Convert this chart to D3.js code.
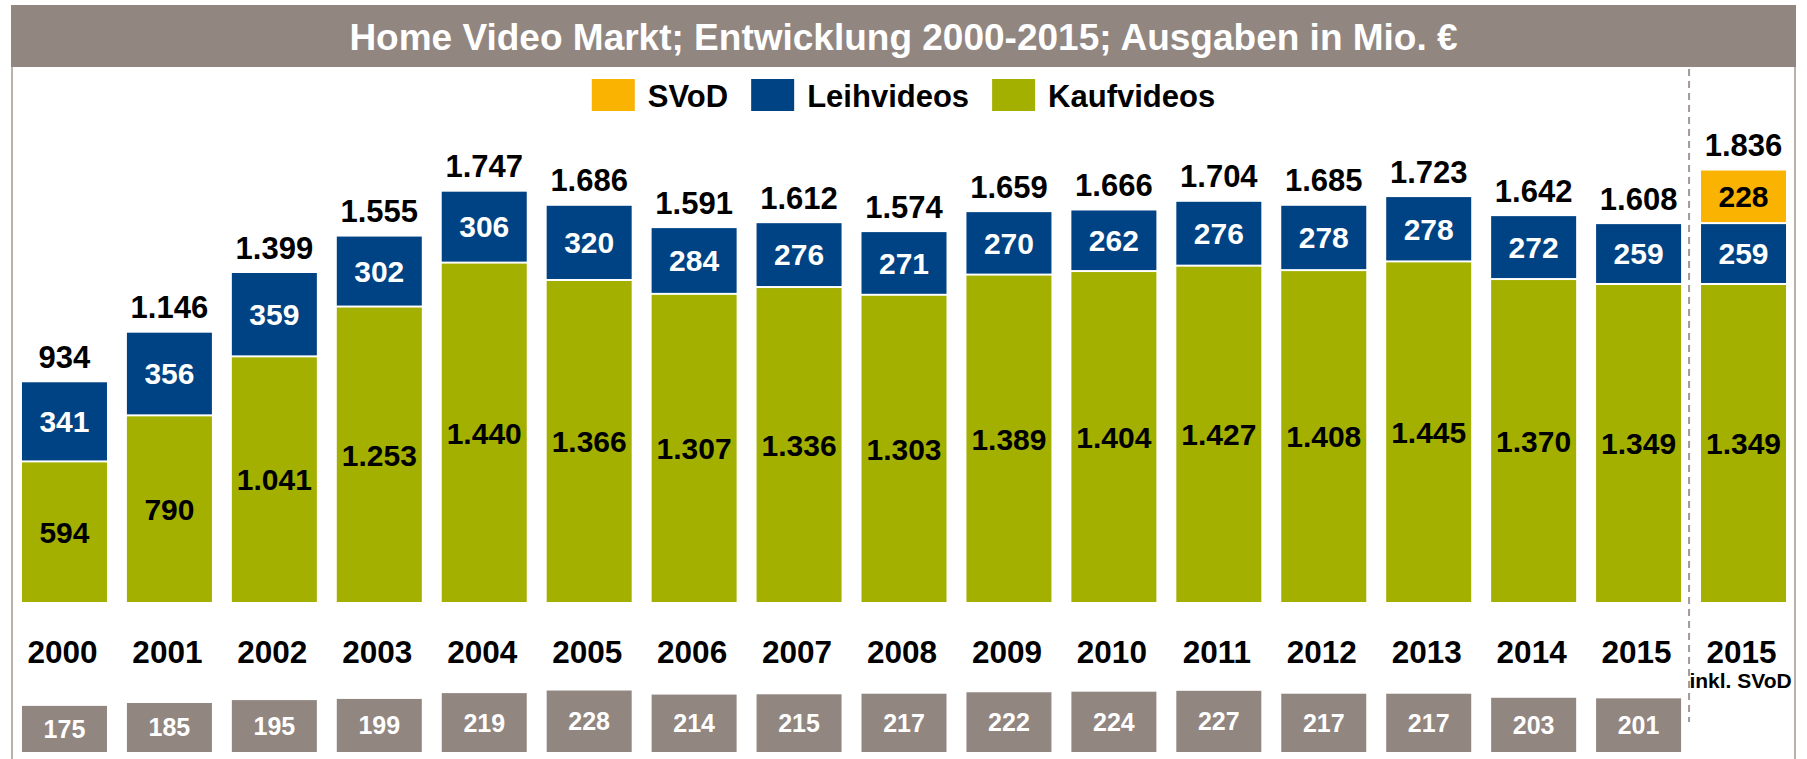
<!DOCTYPE html>
<html>
<head>
<meta charset="utf-8">
<script src="https://cdn.jsdelivr.net/npm/d3@7"></script>
<style>
  html, body { margin: 0; padding: 0; background: #fff; }
  svg { display: block; font-family: "Liberation Sans", Arial, sans-serif; font-weight: bold; }
</style>
</head>
<body>
<svg id="chart" width="1807" height="759"></svg>
<script>
// ---- data ----
const categories = ["2000","2001","2002","2003","2004","2005","2006","2007","2008","2009","2010","2011","2012","2013","2014","2015","2015 inkl. SVoD"];
const yearLabels = ["2000","2001","2002","2003","2004","2005","2006","2007","2008","2009","2010","2011","2012","2013","2014","2015","2015"];
const kaufvideos = [594, 790, 1041, 1253, 1440, 1366, 1307, 1336, 1303, 1389, 1404, 1427, 1408, 1445, 1370, 1349, 1349];
const leihvideos = [341, 356, 359, 302, 306, 320, 284, 276, 271, 270, 262, 276, 278, 278, 272, 259, 259];
const svod       = [0, 0, 0, 0, 0, 0, 0, 0, 0, 0, 0, 0, 0, 0, 0, 0, 228];
const totals     = [934, 1146, 1399, 1555, 1747, 1686, 1591, 1612, 1574, 1659, 1666, 1704, 1685, 1723, 1642, 1608, 1836];
const lowerValues = [175, 185, 195, 199, 219, 228, 214, 215, 217, 222, 224, 227, 217, 217, 203, 201];
const seriesNames = ["Kaufvideos", "Leihvideos", "SVoD"];
const legendOrder = ["SVoD", "Leihvideos", "Kaufvideos"];
const title = "Home Video Markt; Entwicklung 2000-2015; Ausgaben in Mio. €";
const subLabel = "inkl. SVoD";

// ---- styles ----
const colors = { "Kaufvideos": "#a3b000", "Leihvideos": "#004384", "SVoD": "#f9b300" };
const labelColors = { "Kaufvideos": "#000", "Leihvideos": "#fff", "SVoD": "#000" };
const greyBrown = "#928681";
const frameColor = "#b9b1ad";

const loc = d3.formatLocale({ decimal: ",", thousands: ".", grouping: [3], currency: ["", "€"] });
const fmt = loc.format(",d");

const svg = d3.select("#chart");

// scales
const x = d3.scaleBand().domain(categories).range([12, 1796]).paddingInner(0.19).paddingOuter(0.095);
const y = d3.scaleLinear().domain([0, 2000]).range([602, 602 - 470]);
const y2 = d3.scaleLinear().domain([16, 236]).range([752, 752 - 63.8]);

// frame
svg.append("line").attr("x1", 12).attr("x2", 12).attr("y1", 66).attr("y2", 759)
  .attr("stroke", frameColor).attr("stroke-width", 2);
svg.append("line").attr("x1", 1795).attr("x2", 1795).attr("y1", 66).attr("y2", 759)
  .attr("stroke", frameColor).attr("stroke-width", 2);

// title bar
svg.append("rect").attr("x", 11).attr("y", 5).attr("width", 1785).attr("height", 62).attr("fill", greyBrown);
svg.append("text").attr("x", 903.5).attr("y", 50).attr("text-anchor", "middle")
  .attr("fill", "#fff").attr("font-size", 37).text(title);

// legend
const lg = svg.append("g");
let cx = 0;
legendOrder.forEach(name => {
  const g = lg.append("g").attr("transform", `translate(${cx},0)`);
  g.append("rect").attr("x", 0).attr("y", 79).attr("width", 43).attr("height", 32).attr("fill", colors[name]);
  const t = g.append("text").attr("x", 56).attr("y", 107).attr("font-size", 31).attr("fill", "#000").text(name);
  const w = t.node().getComputedTextLength();
  cx += 56 + w + 23;
});
const legendWidth = cx - 23;
lg.attr("transform", `translate(${903.5 - legendWidth / 2},0)`);

// stacked data
const stackData = categories.map((c, i) => ({ cat: c, Kaufvideos: kaufvideos[i], Leihvideos: leihvideos[i], SVoD: svod[i] }));
const stacked = d3.stack().keys(seriesNames)(stackData);

const gap = 2;
stacked.forEach((layer, li) => {
  const name = layer.key;
  const g = svg.append("g");
  layer.forEach(d => {
    const v = d[1] - d[0];
    if (v <= 0) return;
    const top = y(d[1]);
    const bottom = y(d[0]) - (li > 0 ? gap : 0);
    g.append("rect").attr("x", x(d.data.cat)).attr("width", x.bandwidth())
      .attr("y", top).attr("height", bottom - top).attr("fill", colors[name]);
    g.append("text").attr("x", x(d.data.cat) + x.bandwidth() / 2)
      .attr("y", (top + bottom) / 2 + 0.36 * 30)
      .attr("text-anchor", "middle").attr("font-size", 30).attr("fill", labelColors[name])
      .text(fmt(v));
  });
});

// totals
svg.append("g").selectAll("text").data(categories).join("text")
  .attr("x", d => x(d) + x.bandwidth() / 2)
  .attr("y", (d, i) => y(kaufvideos[i] + leihvideos[i] + svod[i]) - 14.5)
  .attr("text-anchor", "middle").attr("font-size", 31).attr("fill", "#000")
  .text((d, i) => fmt(totals[i]));

// year labels
svg.append("g").selectAll("text").data(categories).join("text")
  .attr("x", d => x(d) + x.bandwidth() / 2 - 2)
  .attr("y", 663)
  .attr("text-anchor", "middle").attr("font-size", 31.5).attr("fill", "#000")
  .text((d, i) => yearLabels[i]);
svg.append("text").attr("x", x(categories[16]) + x.bandwidth() / 2 - 3).attr("y", 688)
  .attr("text-anchor", "middle").attr("font-size", 21).attr("fill", "#000").text(subLabel);

// lower grey boxes
const lower = svg.append("g");
lowerValues.forEach((v, i) => {
  const c = categories[i];
  const top = y2(v), bottom = y2(16);
  lower.append("rect").attr("x", x(c)).attr("width", x.bandwidth())
    .attr("y", top).attr("height", bottom - top).attr("fill", greyBrown);
  lower.append("text").attr("x", x(c) + x.bandwidth() / 2).attr("y", (top + bottom) / 2 + 0.36 * 25)
    .attr("text-anchor", "middle").attr("font-size", 25).attr("fill", "#fff").text(fmt(v));
});

// dashed separator
const sepX = (x(categories[15]) + x.bandwidth() + x(categories[16])) / 2 - 2;
svg.append("line").attr("x1", sepX).attr("x2", sepX).attr("y1", 69).attr("y2", 722)
  .attr("stroke", "#a29a96").attr("stroke-width", 2).attr("stroke-dasharray", "7,5");
</script>
</body>
</html>
